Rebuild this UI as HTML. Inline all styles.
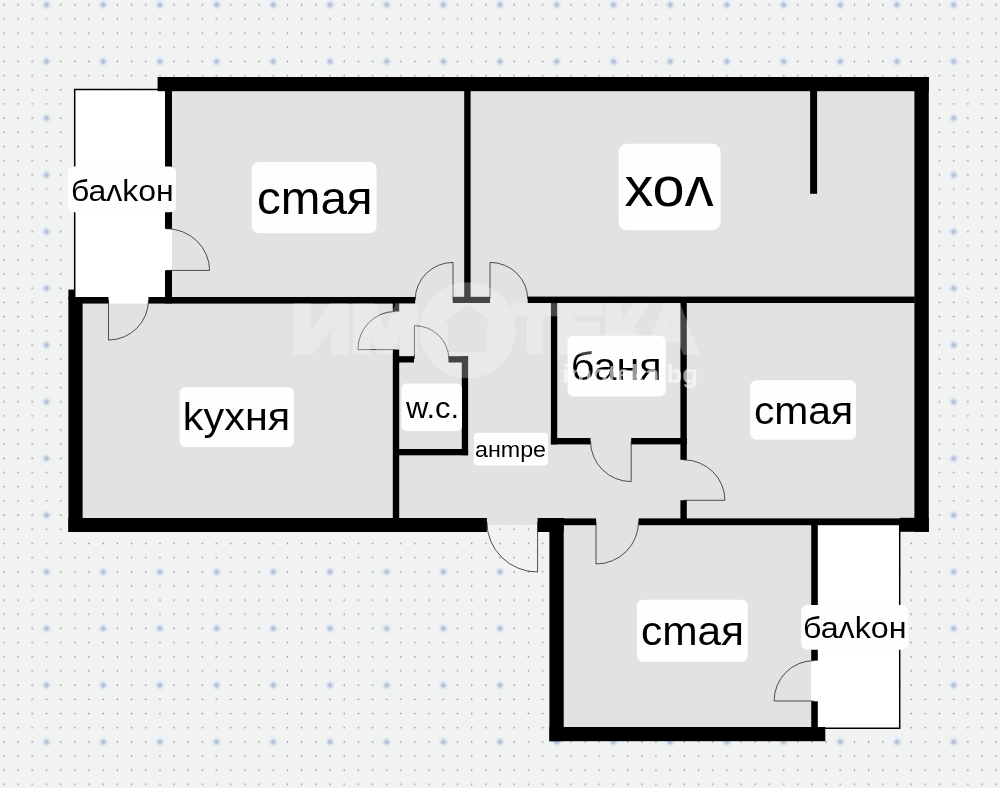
<!DOCTYPE html>
<html lang="bg">
<head>
<meta charset="utf-8">
<title>План</title>
<style>
  html, body { margin: 0; padding: 0; background: #f1f2f2; }
  body { width: 1000px; height: 788px; overflow: hidden; font-family: "Liberation Sans", sans-serif; }
  svg { display: block; will-change: transform; }
  text { font-family: "Liberation Sans", sans-serif; fill: #000; }
</style>
</head>
<body>
<svg width="1000" height="788" viewBox="0 0 1000 788">
  <defs>
    <!-- dotted grid: small dots every 14.175px, big diamond dot every 56.7px -->
    <pattern id="grid" x="39.4" y="-2.3" width="56.7" height="56.7" patternUnits="userSpaceOnUse">
      <circle cx="7.09" cy="7.09" r="4.7" fill="#e1e9f3"/>
      <g fill="#82868b">
        <circle cx="21.26" cy="7.09" r="0.75"/>
        <circle cx="35.44" cy="7.09" r="0.75"/>
        <circle cx="49.61" cy="7.09" r="0.75"/>
        <circle cx="7.09" cy="21.26" r="0.75"/>
        <circle cx="21.26" cy="21.26" r="0.75"/>
        <circle cx="35.44" cy="21.26" r="0.75"/>
        <circle cx="49.61" cy="21.26" r="0.75"/>
        <circle cx="7.09" cy="35.44" r="0.75"/>
        <circle cx="21.26" cy="35.44" r="0.75"/>
        <circle cx="35.44" cy="35.44" r="0.75"/>
        <circle cx="49.61" cy="35.44" r="0.75"/>
        <circle cx="7.09" cy="49.61" r="0.75"/>
        <circle cx="21.26" cy="49.61" r="0.75"/>
        <circle cx="35.44" cy="49.61" r="0.75"/>
        <circle cx="49.61" cy="49.61" r="0.75"/>
      </g>
      <path d="M7.09 4.0 L10.2 7.09 L7.09 10.2 L4.0 7.09 Z" fill="#b3c4d8"/>
    </pattern>
  </defs>

  <!-- background -->
  <rect width="1000" height="788" fill="#f1f2f2"/>
  <rect width="1000" height="788" fill="url(#grid)"/>

  <!-- ROOM FLOOR -->
  <g id="floor" fill="#e2e2e2">
    <path d="M165 84 H921 V525 H818 V734 H556 V525 H75 V300 H165 Z"/>
  </g>

  <!-- BALCONIES -->
  <g id="balconies">
    <rect x="74.7" y="89.6" width="97.3" height="214" fill="#fff"/>
    <path d="M74.7 297 V89.6 H166" fill="none" stroke="#000" stroke-width="1.5"/>
    <rect x="811" y="525" width="88.8" height="203.4" fill="#fff"/>
    <path d="M899.7 525 V728.2 H817" fill="none" stroke="#000" stroke-width="1.5"/>
  </g>

  <!-- DOORS -->
  <g id="doors" fill="none" stroke="#303030" stroke-width="0.85">
    <path d="M166 270.4 H209.6 A43.6 42 0 0 0 166 228.6"/>
    <path d="M108.5 300 V340 A40 40 0 0 0 148.5 300"/>
    <path d="M453 300 V262.4 A37.8 37.6 0 0 0 415.2 300"/>
    <path d="M490 299 V262.4 A37.7 36.6 0 0 1 527.7 299"/>
    <path d="M395 349.6 H357.9 A37.1 38.1 0 0 1 395 311.5"/>
    <path d="M414.4 359 V325.6 A34.4 33.4 0 0 1 448.8 359"/>
    <path d="M537.6 522 V572 A50.7 50 0 0 1 486.9 522"/>
    <path d="M631.2 441 V481.6 A40.7 40.6 0 0 1 590.5 441"/>
    <path d="M683.5 500.3 H724.9 A41.4 40.5 0 0 0 683.5 459.8"/>
    <path d="M596 521.5 V564 A42.6 42.5 0 0 0 638.6 521.5"/>
    <path d="M814 701 H774.1 A39.9 40.4 0 0 1 814 660.6"/>
  </g>

  <!-- WALLS -->
  <g id="walls" fill="#000">
    <!-- outer -->
    <rect x="157.6" y="77" width="771.2" height="14.2"/>
    <rect x="914.4" y="77" width="14.4" height="454.8"/>
    <rect x="899.8" y="517.8" width="29" height="14"/>
    <rect x="68.4" y="289.6" width="6.3" height="10"/>
    <rect x="68.4" y="297" width="14.2" height="235"/>
    <rect x="68.4" y="518" width="418.5" height="14"/>
    <rect x="537.6" y="518" width="26.1" height="14"/>
    <rect x="549.4" y="518" width="14.3" height="223.2"/>
    <rect x="549.4" y="727" width="275.9" height="14.2"/>
    <!-- balcony (top-left) / room wall with door gap -->
    <rect x="165" y="91" width="7" height="137.8"/>
    <rect x="165" y="270.4" width="7" height="33"/>
    <!-- horizontal wall y=297 -->
    <rect x="75" y="297" width="33.5" height="6.6"/>
    <rect x="148.5" y="297" width="266.7" height="6.6"/>
    <rect x="452.8" y="296.8" width="37.2" height="6.2"/>
    <rect x="527.7" y="296.6" width="387" height="6.4"/>
    <!-- vertical wall between room and hall -->
    <rect x="464.2" y="91" width="6.4" height="212"/>
    <!-- partial wall in hall -->
    <rect x="810.1" y="91" width="7" height="102.8"/>
    <!-- kitchen / corridor wall -->
    <rect x="392.8" y="303" width="6.4" height="8.5"/>
    <rect x="392.8" y="349.6" width="6.4" height="170"/>
    <!-- wc -->
    <rect x="399" y="356.2" width="15" height="6.3"/>
    <rect x="448.5" y="356.2" width="19.6" height="6.3"/>
    <rect x="461.8" y="356.2" width="6.3" height="99"/>
    <rect x="399" y="449" width="69.1" height="6.3"/>
    <!-- bath -->
    <rect x="550.9" y="303" width="6.3" height="141.4"/>
    <rect x="550.9" y="438" width="39.6" height="6.4"/>
    <rect x="631.2" y="438" width="55.6" height="6.4"/>
    <rect x="680.4" y="303" width="6.4" height="156.8"/>
    <rect x="680.4" y="500.3" width="6.4" height="20"/>
    <!-- wall between right room and bottom room -->
    <rect x="563" y="518.4" width="33.1" height="6.8"/>
    <rect x="638.6" y="518.4" width="262" height="6.8"/>
    <!-- bottom room / balcony wall with door gap -->
    <rect x="811.2" y="525" width="6.6" height="135.6"/>
    <rect x="811.2" y="701.3" width="6.6" height="27"/>
  </g>


  <!-- LABELS -->
  <g id="labels">
    <rect x="67.9" y="166.4" width="108.2" height="45.9" rx="6" fill="#fefefd"/>
    <text x="70.90" y="200.50" font-size="30" textLength="102.71" lengthAdjust="spacingAndGlyphs">баʌkон</text>
    <rect x="251.8" y="162.1" width="124.7" height="71.1" rx="7" fill="#fefefd"/>
    <text x="256.94" y="214.00" font-size="46" textLength="115.68" lengthAdjust="spacingAndGlyphs">сmая</text>
    <rect x="618.6" y="143.8" width="102.0" height="86.4" rx="8" fill="#fefefd"/>
    <text x="624.46" y="206.40" font-size="55.7" textLength="89.06" lengthAdjust="spacingAndGlyphs">хоʌ</text>
    <rect x="179.6" y="387.2" width="114.4" height="59.8" rx="6" fill="#fefefd"/>
    <text x="182.87" y="430.00" font-size="38" textLength="107.26" lengthAdjust="spacingAndGlyphs">kухня</text>
    <rect x="401.6" y="383.5" width="60.4" height="47.4" rx="5" fill="#fefefd"/>
    <text x="405.95" y="418.40" font-size="30" textLength="53.20" lengthAdjust="spacingAndGlyphs">w.c.</text>
    <rect x="474" y="432.8" width="74.0" height="32.8" rx="4" fill="#fefefd"/>
    <text x="474.94" y="456.80" font-size="22.7" textLength="71.11" lengthAdjust="spacingAndGlyphs">анmре</text>
    <rect x="567.5" y="335.7" width="98.3" height="60.9" rx="6" fill="#fefefd"/>
    <text x="570.82" y="379.60" font-size="38" textLength="90.85" lengthAdjust="spacingAndGlyphs">баня</text>
    <rect x="750.3" y="380.3" width="105.7" height="59.5" rx="6" fill="#fefefd"/>
    <text x="753.90" y="424.00" font-size="39.2" textLength="99.23" lengthAdjust="spacingAndGlyphs">сmая</text>
    <rect x="636.9" y="599.8" width="110.8" height="62.0" rx="6" fill="#fefefd"/>
    <text x="640.91" y="644.80" font-size="41.3" textLength="103.22" lengthAdjust="spacingAndGlyphs">сmая</text>
    <rect x="801.2" y="605" width="106.9" height="44.8" rx="6" fill="#fefefd"/>
    <text x="802.94" y="638.10" font-size="30" textLength="103.65" lengthAdjust="spacingAndGlyphs">баʌkон</text>
  </g>

  <!-- WATERMARK (drawn above everything) -->
  <g id="watermark" fill="#fff" font-weight="bold">
    <g opacity="0.27">
      <text x="291.5" y="352" font-size="66.5" textLength="128" lengthAdjust="spacingAndGlyphs" stroke="#fff" stroke-width="5.5" style="fill:#fff;font-weight:700">ИМ</text>
      <path fill-rule="evenodd" d="M467.5 282.2 a48 48 0 1 0 0.01 0 Z M468.5 304.5 L492 323 H487 V352 H448 V323 H443.5 Z"/>
      <text x="513.5" y="352" font-size="66.5" textLength="184" lengthAdjust="spacingAndGlyphs" stroke="#fff" stroke-width="5.5" style="fill:#fff;font-weight:700">ТЕКА</text>
    </g>
    <text x="562" y="383.4" font-size="25" textLength="136" lengthAdjust="spacingAndGlyphs" opacity="0.6" style="fill:#fff;font-weight:700">imoteka.bg</text>
  </g>

</svg>
</body>
</html>
